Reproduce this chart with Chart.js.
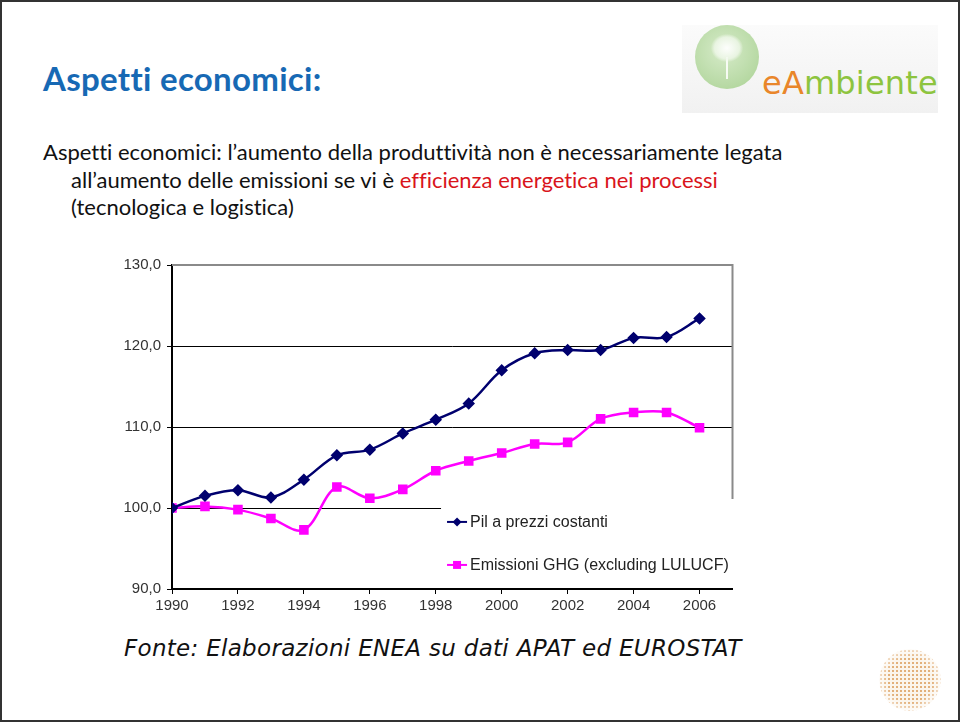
<!DOCTYPE html>
<html>
<head>
<meta charset="utf-8">
<script src="https://cdn.jsdelivr.net/npm/chart.js@4/dist/chart.umd.min.js"></script>
<style>
  body { margin: 0; width: 960px; height: 722px; background: #fff; position: relative; overflow: hidden; }
  .frame { position: absolute; left: 0; top: 0; width: 956px; height: 718px; border: 2px solid #333; }
  .title { position: absolute; left: 43px; top: 58px; font: 700 33px Lato, sans-serif; color: #1769b4; letter-spacing: 0.3px; font-variant-ligatures: none; }
  .body { position: absolute; left: 43px; top: 138px; font: 22px Lato, sans-serif; color: #111; line-height: 27.5px; font-variant-ligatures: none; }
  .body div.ind { padding-left: 28px; }
  .red { color: #d9141b; }
  .logo { position: absolute; left: 682px; top: 25px; width: 256px; height: 88px;
          background: linear-gradient(#fbfbfb, #f1f1f1); }
  .logo .orb { position: absolute; left: 13px; top: 0px; width: 64px; height: 64px; border-radius: 50%;
          background: radial-gradient(circle at 45% 40%, #d6ebc9, #b9daa6 65%, #a8d190); }
  .logo .tree { position: absolute; left: 29px; top: 9px; width: 32px; height: 28px; border-radius: 50%;
          background: radial-gradient(rgba(255,255,255,0.95), rgba(240,248,235,0.8) 55%, rgba(255,255,255,0) 72%); }
  .logo .trunk { position: absolute; left: 44px; top: 32px; width: 2px; height: 22px; background: rgba(255,255,255,0.85); }
  .logo .word { position: absolute; left: 80px; top: 39px; font: 32px "DejaVu Sans", sans-serif; letter-spacing: 0.2px; }
  .fonte { position: absolute; left: 124px; top: 635px; font: italic 23px "DejaVu Sans", sans-serif; color: #111; letter-spacing: 0.3px; }
  .globe { position: absolute; left: 879px; top: 649px; width: 62px; height: 62px; border-radius: 50%;
          background: radial-gradient(circle, #e2b07a 0.8px, rgba(0,0,0,0) 1.4px) 0 0 / 4px 4px, #fbf5ec;
          -webkit-mask: radial-gradient(circle, #000 50%, rgba(0,0,0,0.35) 72%); }
  #wrap { position: absolute; left: 100px; top: 250px; width: 640px; height: 370px; }
</style>
</head>
<body>
<div class="frame"></div>
<div class="title">Aspetti economici:</div>
<div class="body">
  <div>Aspetti economici: l’aumento della produttività non è necessariamente legata</div>
  <div class="ind">all’aumento delle emissioni se vi è <span class="red">efficienza energetica nei processi</span></div>
  <div class="ind">(tecnologica e logistica)</div>
</div>
<div class="logo">
  <div class="orb"></div><div class="trunk"></div><div class="tree"></div>
  <div class="word"><span style="color:#e9862a">eA</span><span style="color:#8dc43f">mbiente</span></div>
</div>
<div id="wrap"><canvas id="c"></canvas></div>
<div class="fonte">Fonte: Elaborazioni ENEA su dati APAT ed EUROSTAT</div>
<div class="globe"></div>
<script>
const years = [1990, 1991, 1992, 1993, 1994, 1995, 1996, 1997, 1998, 1999, 2000, 2001, 2002, 2003, 2004, 2005, 2006];
const pil = [100, 101.5, 102.2, 101.3, 103.5, 106.5, 107.2, 109.2, 110.9, 112.9, 117.0, 119.1, 119.5, 119.5, 121.0, 121.1, 123.4];
const ghg = [100, 100.2, 99.8, 98.7, 97.3, 102.6, 101.2, 102.3, 104.6, 105.8, 106.8, 107.9, 108.1, 111.0, 111.8, 111.8, 109.9];
const yTicks = [90, 100, 110, 120, 130];
const xTicks = [1990, 1992, 1994, 1996, 1998, 2000, 2002, 2004, 2006];

const font = { family: '"Liberation Sans", Arial, sans-serif', size: 15 };

// legend in a white box inside the plot, like the Excel picture
const boxLegend = {
  id: 'boxLegend',
  afterDatasetsDraw(chart) {
    const { ctx, chartArea: a } = chart;
    const w = a.right - a.left, h = a.bottom - a.top;
    const x0 = a.left + w * 0.48, y0 = a.top + h * 0.722;
    ctx.save();
    ctx.fillStyle = '#fff';
    ctx.fillRect(x0, y0, a.right + 2 - x0, a.bottom - 1 - y0);
    // grey border of the plot area (top and right)
    ctx.strokeStyle = '#8a8a8a';
    ctx.lineWidth = 2;
    ctx.beginPath();
    ctx.moveTo(a.left, a.top);
    ctx.lineTo(a.right, a.top);
    ctx.lineTo(a.right, y0);
    ctx.stroke();
    ctx.font = '16px "Liberation Sans", Arial, sans-serif';
    ctx.textBaseline = 'middle';
    chart.data.datasets.forEach((ds, i) => {
      const y = y0 + 23 + i * 43;
      const lx = x0 + 6;
      ctx.strokeStyle = ds.borderColor;
      ctx.lineWidth = 2;
      ctx.beginPath();
      ctx.moveTo(lx, y);
      ctx.lineTo(lx + 20, y);
      ctx.stroke();
      ctx.fillStyle = ds.borderColor;
      const r = ds.pointRadius;
      ctx.beginPath();
      if (ds.pointStyle === 'rectRot') {
        ctx.moveTo(lx + 10, y - r); ctx.lineTo(lx + 10 + r, y);
        ctx.lineTo(lx + 10, y + r); ctx.lineTo(lx + 10 - r, y);
        ctx.closePath();
      } else {
        ctx.rect(lx + 10 - r * 0.8, y - r * 0.8, r * 1.6, r * 1.6);
      }
      ctx.fill();
      ctx.fillStyle = '#222';
      ctx.fillText(ds.label, lx + 23, y + 1);
    });
    ctx.restore();
  }
};

new Chart(document.getElementById('c'), {
  type: 'line',
  data: {
    datasets: [
      {
        label: 'Pil a prezzi costanti',
        data: years.map((y, i) => ({ x: y, y: pil[i] })),
        borderColor: '#00006e',
        backgroundColor: '#00006e',
        borderWidth: 2.5,
        pointStyle: 'rectRot',
        pointRadius: 4.5,
        tension: 0.35
      },
      {
        label: 'Emissioni GHG (excluding LULUCF)',
        data: years.map((y, i) => ({ x: y, y: ghg[i] })),
        borderColor: '#ff00ff',
        backgroundColor: '#ff00ff',
        borderWidth: 2.5,
        pointStyle: 'rect',
        pointRadius: 5,
        tension: 0.35
      }
    ]
  },
  options: {
    responsive: true,
    maintainAspectRatio: false,
    animation: false,
    layout: { padding: { top: 15, right: 7 } },
    plugins: { legend: { display: false }, tooltip: { enabled: false } },
    scales: {
      x: {
        type: 'linear',
        min: 1990,
        max: 2007,
        afterBuildTicks: s => { s.ticks = xTicks.map(v => ({ value: v })); },
        afterFit: s => { s.height = 31; },
        grid: { drawOnChartArea: false, drawTicks: true, tickLength: 5, color: '#000' },
        border: { color: '#000', width: 2 },
        ticks: { color: '#333', font, padding: 3, maxRotation: 0, callback: v => String(v) }
      },
      y: {
        min: 90,
        max: 130,
        afterBuildTicks: s => { s.ticks = yTicks.map(v => ({ value: v })); },
        afterFit: s => { s.width = 72; },
        grid: { color: '#000', lineWidth: 1, tickLength: 5 },
        border: { color: '#000', width: 2 },
        ticks: { color: '#333', font, padding: 6, callback: v => v.toFixed(1).replace('.', ',') }
      }
    }
  },
  plugins: [boxLegend]
});
</script>
</body>
</html>
